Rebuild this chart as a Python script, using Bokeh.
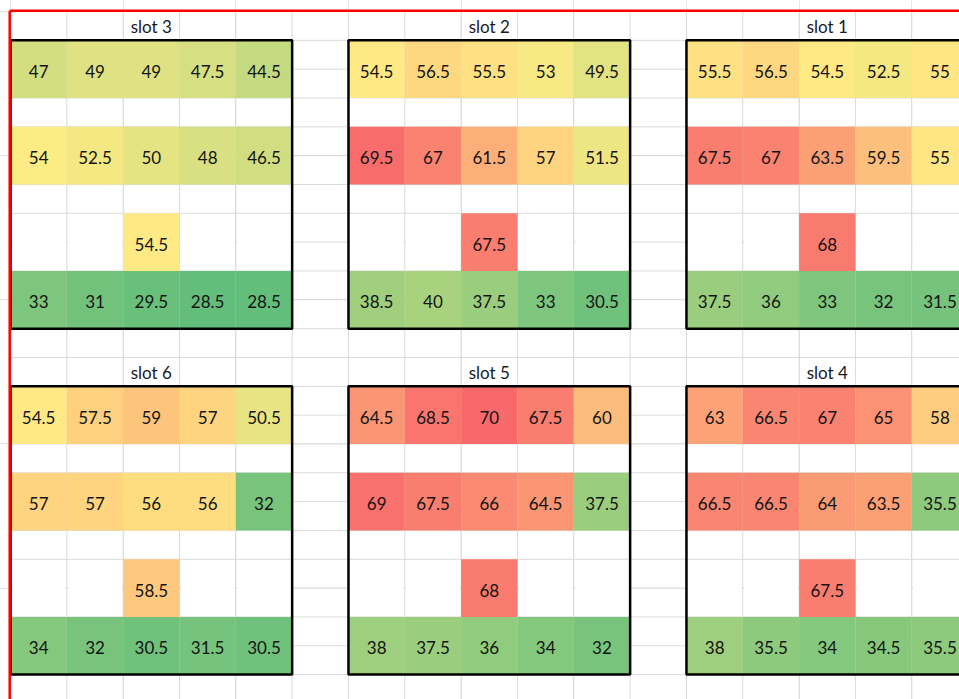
import numpy as np
from bokeh.plotting import figure
from bokeh.models import ColumnDataSource, Range1d
from bokeh.core.properties import value
from bokeh.embed import file_html
from bokeh.resources import INLINE

# ---- data (read from the sheet) ----
slot_names = ["slot 3", "slot 2", "slot 1", "slot 6", "slot 5", "slot 4"]
row_a = [[47, 49, 49, 47.5, 44.5],
         [54.5, 56.5, 55.5, 53, 49.5],
         [55.5, 56.5, 54.5, 52.5, 55],
         [54.5, 57.5, 59, 57, 50.5],
         [64.5, 68.5, 70, 67.5, 60],
         [63, 66.5, 67, 65, 58]]
row_b = [[54, 52.5, 50, 48, 46.5],
         [69.5, 67, 61.5, 57, 51.5],
         [67.5, 67, 63.5, 59.5, 55],
         [57, 57, 56, 56, 32],
         [69, 67.5, 66, 64.5, 37.5],
         [66.5, 66.5, 64, 63.5, 35.5]]
row_c = [54.5, 67.5, 68, 58.5, 68, 67.5]
row_d = [[33, 31, 29.5, 28.5, 28.5],
         [38.5, 40, 37.5, 33, 30.5],
         [37.5, 36, 33, 32, 31.5],
         [34, 32, 30.5, 31.5, 30.5],
         [38, 37.5, 36, 34, 32],
         [38, 35.5, 34, 34.5, 35.5]]

# ---- layout (sheet columns / rows) ----
block_col0 = [0, 6, 12, 0, 6, 12]
block_row0 = [0, 0, 0, 12, 12, 12]
N_COLS, N_ROWS = 17, 24
COL_W, ROW_H = 56.33, 28.83
W, H = 959, 699
LEFT_PX, TOP_PX = 10, 11   # where the sheet grid starts on the page

# ---- Excel-like 3 colour scale ----
all_vals = np.array([v for r in row_a + row_b + row_d for v in r] + row_c, dtype=float)
lo, hi = all_vals.min(), all_vals.max()
mid = np.percentile(all_vals, 50)
GREEN = np.array([0x63, 0xBE, 0x7B]); YELLOW = np.array([0xFF, 0xEB, 0x84]); RED = np.array([0xF8, 0x69, 0x6B])

def scale_color(v):
    if v <= mid:
        t = 0 if mid == lo else (v - lo) / (mid - lo)
        c = GREEN + (YELLOW - GREEN) * t
    else:
        t = (v - mid) / (hi - mid)
        c = YELLOW + (RED - YELLOW) * t
    c = np.round(c).astype(int)
    return "#%02x%02x%02x" % tuple(c)

cx, cy, ch, cval = [], [], [], []
for i in range(6):
    c0, r0 = block_col0[i], block_row0[i]
    for j in range(5):
        for rowvals, roff in ((row_a, 2), (row_b, 5), (row_d, 10)):
            cx.append(c0 + j + 0.5); cy.append(r0 + roff); ch.append(2); cval.append(rowvals[i][j])
    cx.append(c0 + 2.5); cy.append(r0 + 8); ch.append(2); cval.append(row_c[i])
cells = ColumnDataSource(dict(x=cx, y=cy, h=ch, v=cval,
                              color=[scale_color(v) for v in cval],
                              label=["%g" % v for v in cval]))

# merged blank cells in the single-value row
bx, by = [], []
for i in range(6):
    c0, r0 = block_col0[i], block_row0[i]
    for j in (0, 1, 3, 4):
        bx.append(c0 + j + 0.5); by.append(r0 + 8)

titles = ColumnDataSource(dict(x=[c + 2.5 for c in block_col0],
                               y=[r + 0.5 for r in block_row0],
                               label=slot_names))

x0 = -LEFT_PX / COL_W
y0 = -TOP_PX / ROW_H
p = figure(width=W, height=H, output_backend="svg", toolbar_location=None,
           x_axis_location=None, y_axis_location=None, min_border=0,
           x_range=Range1d(x0, x0 + W / COL_W),
           y_range=Range1d(y0 + H / ROW_H, y0))
p.outline_line_color = None
p.background_fill_color = "white"
p.border_fill_color = "white"

GRID = "#dadada"
# sheet gridlines
p.segment(x0=list(range(N_COLS + 1)), y0=[0] * (N_COLS + 1),
          x1=list(range(N_COLS + 1)), y1=[N_ROWS + 1] * (N_COLS + 1),
          line_color=GRID, line_width=1)
p.segment(x0=[0] * (N_ROWS + 1), y0=list(range(N_ROWS + 1)),
          x1=[N_COLS + 1] * (N_ROWS + 1), y1=list(range(N_ROWS + 1)),
          line_color=GRID, line_width=1)
# merged blank cells hide the inner horizontal line
p.rect(x=bx, y=by, width=1 - 2.5 / COL_W, height=2 - 2.5 / ROW_H,
       fill_color="white", line_color=None)

# coloured cells
p.rect(x="x", y="y", width=1, height="h", source=cells,
       fill_color="color", line_color=None)

# block frames
p.quad(left=block_col0, right=[c + 5 for c in block_col0],
       top=[r + 1 for r in block_row0], bottom=[r + 11 for r in block_row0],
       fill_color=None, line_color="black", line_width=2.5)

p.text(x="x", y="y", text="label", source=cells, text_align="center",
       text_baseline="middle", text_font=value("Lato"), text_font_size="17px",
       text_color="#141414", y_offset=2)
p.text(x="x", y="y", text="label", source=titles, text_align="center",
       text_baseline="middle", text_font=value("Lato"), text_font_size="17px",
       text_color="#1a1a26", y_offset=1)

# red frame of the capture (top and left edges)
fx = -0.8 / COL_W
fy = -0.8 / ROW_H
p.segment(x0=[fx, fx], y0=[fy, fy], x1=[fx, N_COLS + 1], y1=[N_ROWS + 1, fy],
          line_color="#ff0000", line_width=2.5)

open("out.html", "w").write(file_html(p, INLINE))
